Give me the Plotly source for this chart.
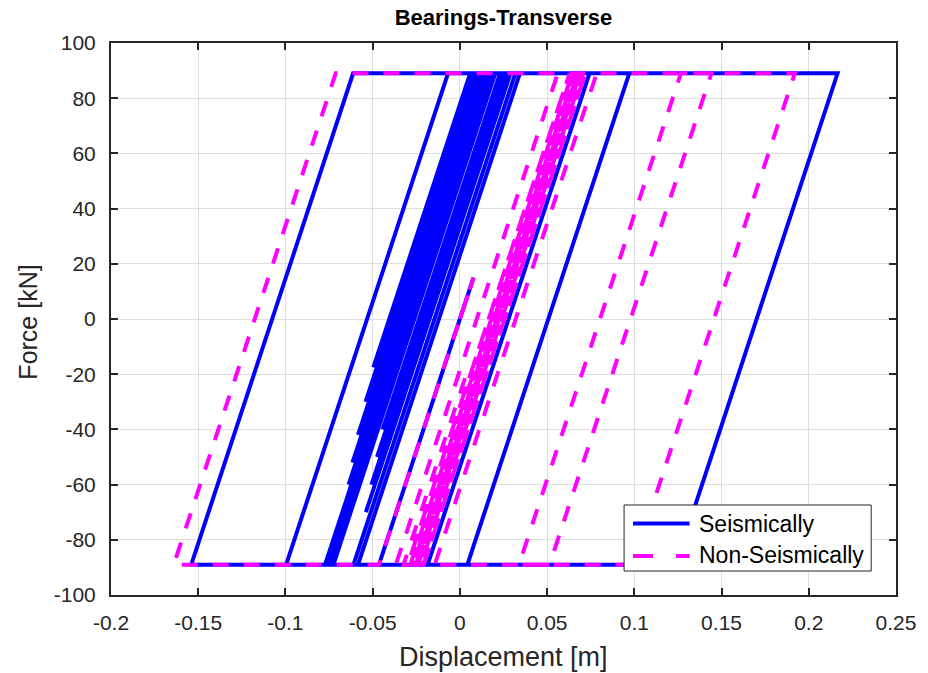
import plotly.graph_objects as go

# ---------------- data ----------------
seis_disp = [0.0, 0.0078, -0.0464, -0.1540, -0.0612, 0.2165, 0.1237, 0.0043, 0.0971, 0.0043,
             -0.0185, 0.0743, -0.0185, -0.0996, -0.0068, 0.0059, -0.0496, 0.0059, 0.0079, -0.0541,
             0.0079, 0.0099, -0.0584, 0.0099, 0.0119, -0.0616, 0.0119, 0.0139, -0.0638, 0.0139,
             0.0155, -0.0650, 0.0155, 0.0175, -0.0753, -0.0773, 0.0155, 0.0195, -0.0733, 0.0195,
             0.0203, -0.0725, 0.0203, 0.0230, -0.0443, 0.0230, 0.0250, -0.0475, 0.0250, 0.0270,
             -0.0507, 0.0270, 0.0290, -0.0539, 0.0290, 0.0318, -0.0555, 0.0318, 0.0344, -0.0464,
             0.0344, -0.0584, -0.0610, 0.0100, -0.0300, -0.0050]
seis_force = [0.0, 15.0, -89.0, -89.0, 89.0, 89.0, -89.0, -89.0, 89.0, -89.0,
              -89.0, 89.0, -89.0, -89.0, 89.0, 89.0, -17.5, 89.0, 89.0, -30.0,
              89.0, 89.0, -42.0, 89.0, 89.0, -52.0, 89.0, 89.0, -60.0, 89.0,
              89.0, -65.4, 89.0, 89.0, -89.0, -89.0, 89.0, 89.0, -89.0, 89.0,
              89.0, -89.0, 89.0, 89.0, -40.0, 89.0, 89.0, -50.0, 89.0, 89.0,
              -60.0, 89.0, 89.0, -70.0, 89.0, 89.0, -78.5, 89.0, 89.0, -66.0,
              89.0, -89.0, -89.0, 47.2, -29.5, 18.4]

nonseis_disp = [0.0, 0.0078, -0.0464, -0.1640, -0.0712, 0.1920, 0.0992, 0.0339, 0.1267, 0.1442,
                0.0514, -0.0367, 0.0561, 0.0784, -0.0144, -0.0209, 0.0719, -0.0209, -0.0224, 0.0704,
                -0.0224, -0.0239, 0.0689, -0.0239, -0.0254, 0.0674, -0.0254, -0.0269, 0.0659, -0.0269,
                -0.0284, 0.0644, -0.0284, -0.0299, 0.0629, -0.0299, -0.0323, 0.0050]
nonseis_force = [0.0, 15.0, -89.0, -89.0, 89.0, 89.0, -89.0, -89.0, 89.0, 89.0,
                 -89.0, -89.0, 89.0, 89.0, -89.0, -89.0, 89.0, -89.0, -89.0, 89.0,
                 -89.0, -89.0, 89.0, -89.0, -89.0, 89.0, -89.0, -89.0, 89.0, -89.0,
                 -89.0, 89.0, -89.0, -89.0, 89.0, -89.0, -89.0, -17.5]

series_names = ["Seismically", "Non-Seismically"]
series_colors = ["#0000FF", "#FF00FF"]

x_ticks = [-0.2, -0.15, -0.1, -0.05, 0.0, 0.05, 0.1, 0.15, 0.2, 0.25]
x_tick_labels = ["-0.2", "-0.15", "-0.1", "-0.05", "0", "0.05", "0.1", "0.15", "0.2", "0.25"]
y_ticks = [-100, -80, -60, -40, -20, 0, 20, 40, 60, 80, 100]
y_tick_labels = ["-100", "-80", "-60", "-40", "-20", "0", "20", "40", "60", "80", "100"]

title_text = "Bearings-Transverse"
x_label = "Displacement [m]"
y_label = "Force [kN]"

# ---------------- layout constants ----------------
W, H = 928, 673
L, R, T, B = 111, 26, 43, 78
PW, PH = W - L - R, H - T - B
FONT = "Liberation Sans, Arial, Helvetica, sans-serif"
AX = "#262626"


def px(xp):
    return (xp - L) / PW


def py(yp):
    return (H - B - yp) / PH


fig = go.Figure()
fig.add_trace(go.Scatter(x=seis_disp, y=seis_force, mode="lines", name=series_names[0],
                         line=dict(color=series_colors[0], width=4), showlegend=False))
fig.add_trace(go.Scatter(x=nonseis_disp, y=nonseis_force, mode="lines", name=series_names[1],
                         line=dict(color=series_colors[1], width=4, dash="16px,15px"),
                         showlegend=False))

axis_common = dict(showline=True, linecolor=AX, linewidth=2, mirror="allticks",
                   ticks="inside", ticklen=7, tickwidth=1.5, tickcolor=AX,
                   showgrid=True, gridcolor="#dedede", gridwidth=1, zeroline=False,
                   tickfont=dict(family=FONT, size=21, color=AX))

fig.update_xaxes(range=[-0.2, 0.25], tickmode="array", tickvals=x_ticks, ticktext=x_tick_labels,
                 ticklabelstandoff=8, **axis_common)
fig.update_yaxes(range=[-100, 100], tickmode="array", tickvals=y_ticks, ticktext=y_tick_labels,
                 ticklabelstandoff=9, **axis_common)

annotations = [
    dict(text=x_label, xref="paper", yref="paper", x=0.5, y=py(657), xanchor="center",
         yanchor="middle", showarrow=False, font=dict(family=FONT, size=27, color=AX)),
    dict(text=y_label, xref="paper", yref="paper", x=px(27), y=py(322), xanchor="center",
         yanchor="middle", textangle=-90, showarrow=False, font=dict(family=FONT, size=25, color=AX)),
    dict(text=series_names[0], xref="paper", yref="paper", x=px(701), y=py(524), xanchor="left",
         yanchor="middle", showarrow=False, font=dict(family=FONT, size=23, color="#000000")),
    dict(text=series_names[1], xref="paper", yref="paper", x=px(701), y=py(555), xanchor="left",
         yanchor="middle", showarrow=False, font=dict(family=FONT, size=23, color="#000000")),
]

shapes = [
    dict(type="rect", xref="paper", yref="paper", x0=px(628), x1=px(877), y0=py(571), y1=py(505),
         fillcolor="white", line=dict(color=AX, width=1), layer="above"),
    dict(type="line", xref="paper", yref="paper", x0=px(637), x1=px(694), y0=py(523.5), y1=py(523.5),
         line=dict(color=series_colors[0], width=4), layer="above"),
    dict(type="line", xref="paper", yref="paper", x0=px(637), x1=px(694), y0=py(556), y1=py(556),
         line=dict(color=series_colors[1], width=4, dash="20px,23px"), layer="above"),
]

fig.update_layout(
    width=W, height=H, margin=dict(l=L, r=R, t=T, b=B, pad=0),
    paper_bgcolor="white", plot_bgcolor="white",
    title=dict(text="<b>" + title_text + "</b>", x=0.5, xref="paper", y=1 - 17 / H,
               yref="container", xanchor="center", yanchor="middle",
               font=dict(family=FONT, size=22, color="#000000")),
    annotations=annotations, shapes=shapes, showlegend=False,
)

fig.write_html("out.html", config={"displayModeBar": False})
